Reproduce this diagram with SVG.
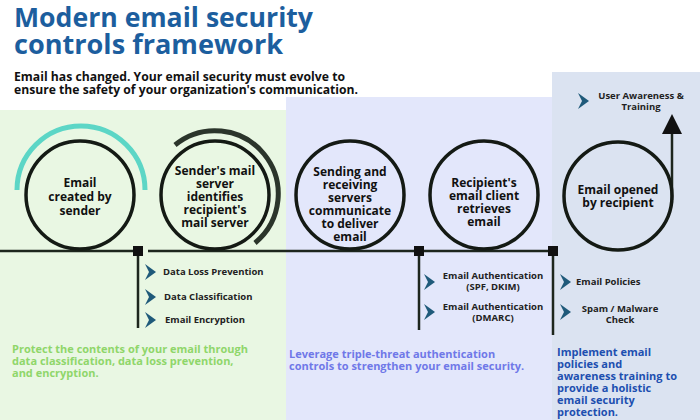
<svg xmlns="http://www.w3.org/2000/svg" width="700" height="420" viewBox="0 0 700 420">
<defs>
<style>
text{font-family:"Open Sans","Noto Sans",sans-serif;font-weight:bold}
.c{fill:none;stroke:#141a14;stroke-width:3.5}
.n{font-size:12px;fill:#111;text-anchor:middle}
.b{font-size:9.5px;fill:#222}
.bc{font-size:9.5px;fill:#222;text-anchor:middle}
.ln{stroke:#1d261d;stroke-width:2.5;fill:none}
</style>
<path id="chev" d="M0,-8 L11,0 L0,8 L4,0 Z" fill="#1f5a7a"/>
<marker id="ah" markerWidth="8" markerHeight="8" refX="4" refY="4" orient="auto"><path d="M0,0 L8,4 L0,8 Z" fill="#111"/></marker>
</defs>
<rect width="700" height="420" fill="#fff"/>
<rect x="0" y="110" width="286" height="310" fill="#e9f7e3"/>
<rect x="286" y="97" width="266" height="323" fill="#e3e7fb"/>
<rect x="552" y="72" width="148" height="348" fill="#dbe3f1"/>
<text x="14" y="27" font-size="26" fill="#1c5e9e" textLength="299" lengthAdjust="spacingAndGlyphs">Modern email security</text>
<text x="14" y="54" font-size="26" fill="#1c5e9e" textLength="269" lengthAdjust="spacingAndGlyphs">controls framework</text>
<text x="14" y="81" font-size="11.5" fill="#111" textLength="331" lengthAdjust="spacingAndGlyphs">Email has changed. Your email security must evolve to</text>
<text x="14" y="94" font-size="11.5" fill="#111" textLength="344" lengthAdjust="spacingAndGlyphs">ensure the safety of your organization's communication.</text>
<g id="connectors">
<path class="ln" d="M0,251 H140 M148,251 H555"/>
<path class="ln" d="M138,251 V328 M419,251 V330 M553,251 V335"/>
<rect x="133" y="246" width="10" height="10" fill="#111"/>
<rect x="414" y="246" width="10" height="10" fill="#111"/>
<rect x="548" y="246" width="10" height="10" fill="#111"/>
<path class="ln" d="M672,200 V124" marker-end="url(#ah)"/>
<path d="M17,190 A64,64 0 0 1 145,190" fill="none" stroke="#5cd6c6" stroke-width="5"/>
<path d="M175,145 A62,62 0 0 1 255,243" fill="none" stroke="#2b352b" stroke-width="5"/>
</g>
<g id="n1"><circle class="c" cx="80" cy="195" r="54"/><text class="n" x="80" y="187">Email</text><text class="n" x="80" y="201">created by</text><text class="n" x="80" y="215">sender</text></g>
<g id="n2"><circle class="c" cx="215" cy="195" r="54"/><text class="n" x="215" y="175">Sender's mail</text><text class="n" x="215" y="188">server</text><text class="n" x="215" y="201">identifies</text><text class="n" x="215" y="214">recipient's</text><text class="n" x="215" y="227">mail server</text></g>
<g id="n3"><circle class="c" cx="350" cy="195" r="54"/><text class="n" x="350" y="176">Sending and</text><text class="n" x="350" y="189">receiving</text><text class="n" x="350" y="202">servers</text><text class="n" x="350" y="215">communicate</text><text class="n" x="350" y="228">to deliver</text><text class="n" x="350" y="241">email</text></g>
<g id="n4"><circle class="c" cx="484" cy="195" r="54"/><text class="n" x="484" y="187">Recipient's</text><text class="n" x="484" y="200">email client</text><text class="n" x="484" y="213">retrieves</text><text class="n" x="484" y="226">email</text></g>
<g id="n5"><circle class="c" cx="618" cy="196" r="54"/><text class="n" x="618" y="194">Email opened</text><text class="n" x="618" y="207">by recipient</text></g>
<g id="bullets">
<use href="#chev" x="145" y="272"/><text class="b" x="163" y="275">Data Loss Prevention</text>
<use href="#chev" x="145" y="297"/><text class="b" x="164" y="300">Data Classification</text>
<use href="#chev" x="145" y="320"/><text class="b" x="165" y="323">Email Encryption</text>
<use href="#chev" x="424" y="282"/><text class="bc" x="493" y="279">Email Authentication</text><text class="bc" x="493" y="290">(SPF, DKIM)</text>
<use href="#chev" x="424" y="312"/><text class="bc" x="493" y="310">Email Authentication</text><text class="bc" x="493" y="321">(DMARC)</text>
<use href="#chev" x="560" y="282"/><text class="b" x="576" y="285">Email Policies</text>
<use href="#chev" x="560" y="312"/><text class="bc" x="620" y="312">Spam / Malware</text><text class="bc" x="620" y="323">Check</text>
<use href="#chev" x="578" y="101"/><text class="bc" x="641" y="99">User Awareness &amp;</text><text class="bc" x="641" y="110">Training</text>
</g>
<g font-size="11">
<text x="12" y="353" fill="#8fd66a">Protect the contents of your email through</text>
<text x="12" y="365" fill="#8fd66a">data classification, data loss prevention,</text>
<text x="12" y="377" fill="#8fd66a">and encryption.</text>
<text x="289" y="358" fill="#6f78e8">Leverage triple-threat authentication</text>
<text x="289" y="370" fill="#6f78e8">controls to strengthen your email security.</text>
<text x="557" y="356" fill="#1d4fb0">Implement email</text>
<text x="557" y="368" fill="#1d4fb0">policies and</text>
<text x="557" y="380" fill="#1d4fb0">awareness training to</text>
<text x="557" y="392" fill="#1d4fb0">provide a holistic</text>
<text x="557" y="404" fill="#1d4fb0">email security</text>
<text x="557" y="416" fill="#1d4fb0">protection.</text>
</g>
</svg>
